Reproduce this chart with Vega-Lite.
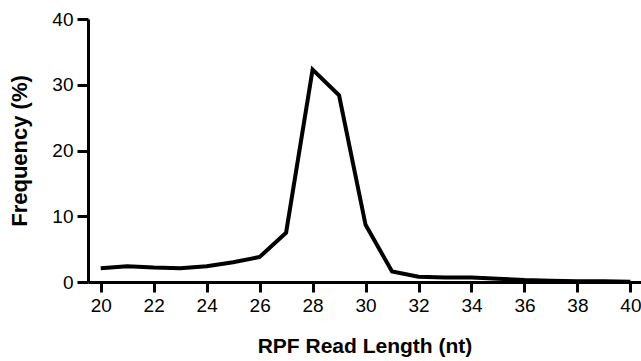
{
  "$schema": "https://vega.github.io/schema/vega-lite/v6.json",
  "autosize": "none",
  "width": 553,
  "height": 263,
  "padding": {"left": 88, "top": 19, "right": 0, "bottom": 79},
  "background": "white",
  "config": {"view": {"stroke": null}, "font": "Liberation Sans"},
  "data": {"values": [
    {"len": 20, "freq": 2.1}, {"len": 21, "freq": 2.4}, {"len": 22, "freq": 2.2},
    {"len": 23, "freq": 2.1}, {"len": 24, "freq": 2.4}, {"len": 25, "freq": 3.0},
    {"len": 26, "freq": 3.8}, {"len": 27, "freq": 7.5}, {"len": 28, "freq": 32.3},
    {"len": 29, "freq": 28.4}, {"len": 30, "freq": 8.7}, {"len": 31, "freq": 1.6},
    {"len": 32, "freq": 0.8}, {"len": 33, "freq": 0.7}, {"len": 34, "freq": 0.7},
    {"len": 35, "freq": 0.5}, {"len": 36, "freq": 0.3}, {"len": 37, "freq": 0.2},
    {"len": 38, "freq": 0.1}, {"len": 39, "freq": 0.1}, {"len": 40, "freq": 0.05}
  ]},
  "mark": {"type": "line", "color": "black", "strokeWidth": 4, "strokeJoin": "miter", "clip": false},
  "encoding": {
    "x": {"field": "len", "type": "quantitative",
      "scale": {"domain": [19.52, 40.4], "nice": false, "zero": false},
      "axis": {"values": [20,22,24,26,28,30,32,34,36,38,40], "grid": false,
        "domainColor": "black", "domainWidth": 3, "tickColor": "black", "tickWidth": 3, "tickSize": 10,
        "labelFontSize": 19, "labelColor": "black", "labelPadding": 4,
        "title": "RPF Read Length (nt)", "titleFontSize": 21, "titleFontWeight": "bold", "titleColor": "black", "titlePadding": 20}},
    "y": {"field": "freq", "type": "quantitative",
      "scale": {"domain": [0, 40], "nice": false},
      "axis": {"values": [0,10,20,30,40], "grid": false,
        "domainColor": "black", "domainWidth": 3, "tickColor": "black", "tickWidth": 3, "tickSize": 11,
        "labelFontSize": 19, "labelColor": "black", "labelPadding": 4,
        "title": "Frequency (%)", "titleFontSize": 22, "titleFontWeight": "bold", "titleColor": "black", "titlePadding": 20}}
  }
}
